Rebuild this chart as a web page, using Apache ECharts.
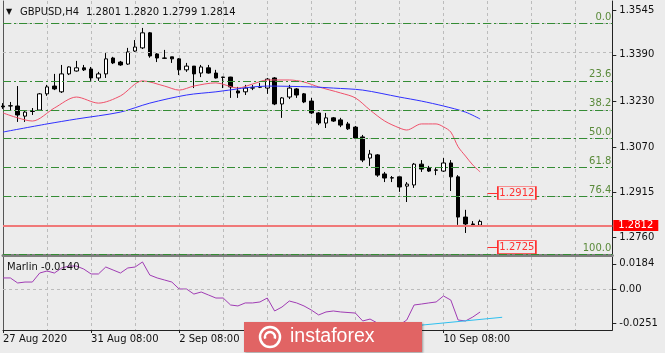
<!DOCTYPE html>
<html><head><meta charset="utf-8">
<script src="https://cdn.jsdelivr.net/npm/echarts@6/dist/echarts.min.js"></script>
<style>html,body{margin:0;padding:0;background:#ececec;}#c{width:665px;height:353px;}</style>
</head><body><div id="c"></div>
<script>
const symbolTitle = 'GBPUSD,H4';
const ohlcTitle = '1.2801 1.2820 1.2799 1.2814';
const indicatorTitle = 'Marlin -0.0140';

// [open, close, low, high]
const candles = [
 [1.3213,1.3210,1.3203,1.3223],[1.3213,1.3214,1.3199,1.3227],[1.3213,1.3182,1.3158,1.3282],[1.3178,1.3192,1.3158,1.3199],
 [1.3194,1.3196,1.3182,1.3206],[1.3199,1.3255,1.3196,1.3258],[1.3255,1.3279,1.3248,1.3286],[1.3282,1.3272,1.3268,1.3324],
 [1.3262,1.3324,1.3258,1.3355],[1.3324,1.3348,1.3320,1.3350],[1.3334,1.3345,1.3332,1.3369],[1.3345,1.3338,1.3334,1.3355],
 [1.3341,1.3310,1.3300,1.3348],[1.3310,1.3324,1.3300,1.3331],[1.3324,1.3376,1.3310,1.3396],[1.3379,1.3362,1.3358,1.3383],
 [1.3365,1.3355,1.3352,1.3369],[1.3358,1.3400,1.3355,1.3414],[1.3403,1.3417,1.3400,1.3441],[1.3414,1.3466,1.3410,1.3483],
 [1.3466,1.3386,1.3380,1.3469],[1.3393,1.3379,1.3365,1.3396],[1.3379,1.3378,1.3376,1.3407],[1.3383,1.3376,1.3362,1.3383],
 [1.3376,1.3338,1.3320,1.3379],[1.3338,1.3351,1.3331,1.3362],[1.3351,1.3324,1.3275,1.3351],[1.3327,1.3348,1.3313,1.3355],
 [1.3345,1.3327,1.3325,1.3355],[1.3327,1.3310,1.3308,1.3338],[1.3313,1.3312,1.3275,1.3314],[1.3313,1.3279,1.3241,1.3314],
 [1.3265,1.3258,1.3241,1.3279],[1.3262,1.3275,1.3251,1.3286],[1.3275,1.3276,1.3268,1.3286],[1.3278,1.3279,1.3275,1.3293],
 [1.3275,1.3306,1.3255,1.3310],[1.3310,1.3220,1.3216,1.3313],[1.3220,1.3241,1.3172,1.3244],[1.3244,1.3275,1.3237,1.3286],
 [1.3272,1.3251,1.3241,1.3275],[1.3255,1.3227,1.3223,1.3258],[1.3230,1.3189,1.3185,1.3241],[1.3189,1.3154,1.3147,1.3192],
 [1.3154,1.3172,1.3137,1.3189],[1.3172,1.3161,1.3158,1.3175],[1.3165,1.3147,1.3140,1.3172],[1.3151,1.3134,1.3130,1.3158],
 [1.3140,1.3102,1.3099,1.3144],[1.3106,1.3026,1.3019,1.3113],[1.3033,1.3047,1.3006,1.3061],[1.3044,1.2974,1.2968,1.3047],
 [1.2978,1.2964,1.2950,1.2985],[1.2965,1.2964,1.2950,1.2971],[1.2968,1.2933,1.2916,1.2968],[1.2936,1.2943,1.2881,1.2950],
 [1.2940,1.3012,1.2930,1.3016],[1.3012,1.2995,1.2985,1.3026],[1.2999,1.2988,1.2985,1.3006],[1.2992,1.2991,1.2974,1.2999],
 [1.2988,1.3016,1.2985,1.3033],[1.3016,1.2968,1.2919,1.3026],[1.2968,1.2829,1.2802,1.2974],[1.2829,1.2805,1.2774,1.2854],
 [1.2805,1.2803,1.2795,1.2815],[1.2801,1.2814,1.2799,1.2820]
];

// [bar index, value]
const maRed = [[0,1.3189],[2,1.3172],[4,1.3161],[7,1.3206],[10,1.3244],[13,1.3223],[16,1.3248],[19,1.3300],
 [22,1.3282],[24,1.3268],[26,1.3282],[29,1.3293],[32,1.3275],[34,1.3289],[36,1.3303],[39,1.3303],[41,1.3296],
 [43,1.3279],[46,1.3258],[48,1.3241],[50,1.3199],[52,1.3161],[54,1.3137],[55,1.3130],[57,1.3151],[59,1.3151],
 [60,1.3141],[61,1.3123],[62,1.3072],[63,1.3040],[64,1.3009],[65,1.2985]];
const maBlue = [[0,1.3123],[6,1.3151],[10,1.3168],[16,1.3192],[20,1.3223],[25,1.3251],[29,1.3262],[36,1.3282],
 [42,1.3279],[45,1.3275],[49,1.3268],[54,1.3244],[57,1.3230],[60,1.3213],[63,1.3192],[65,1.3168]];

const marlin = [0.0081,0.0081,0.0044,0.0051,0.0051,0.0117,0.0132,0.0117,0.0154,0.0168,0.0168,0.0146,
 0.0110,0.0110,0.0161,0.0139,0.0117,0.0154,0.0161,0.0198,0.0102,0.0081,0.0066,0.0051,0.0000,0.0000,
 -0.0037,-0.0022,-0.0044,-0.0066,-0.0066,-0.0117,-0.0124,-0.0102,-0.0102,-0.0095,-0.0066,-0.0161,-0.0132,
 -0.0088,-0.0102,-0.0124,-0.0154,-0.0190,-0.0168,-0.0161,-0.0168,-0.0172,-0.0176,-0.0234,-0.0220,-0.0249,
 -0.0271,-0.0278,-0.0264,-0.0227,-0.0117,-0.0110,-0.0102,-0.0095,-0.0051,-0.0081,-0.0227,-0.0234,-0.0205,-0.0168];
const marlinTrend = [[54,-0.0280],[68,-0.0207]];

const priceTicks = [1.3545,1.3390,1.3230,1.3070,1.2915,1.2760];
const marlinTicks = [0.0184,0,-0.0251];
const marlinTickLabels = ['0.0184','0.00','-0.0251'];
const fibLevels = [1.3514,1.3328,1.3213,1.3120,1.3026,1.2911,1.2725];
const fibNames = ['0.0','23.6','38.2','50.0','61.8','76.4','100.0'];
const currentPrice = 1.2812;
const priceBoxes = [1.2912,1.2725];
const timeLabels = {0:'27 Aug 2020',12:'31 Aug 08:00',24:'2 Sep 08:00',36:'4 Sep 08:00',48:'8 Sep 08:00',60:'10 Sep 08:00'};
const slotCount = 84;
const categories = Array.from({length: slotCount}, (_, i) => String(i));

const FONT = 'DejaVu Sans';
const gridDash = {color:'#bcbcbc', type:[3,3], width:1};

const chart = echarts.init(document.getElementById('c'), null, {renderer:'canvas'});

const hLines = [];
priceTicks.forEach(p => hLines.push({yAxis:p, lineStyle:gridDash, label:{show:false}}));
fibLevels.forEach((p,i) => hLines.push({
  yAxis:p, lineStyle:{color:'#348c34', type:[8,3,2,3], width:1},
  label:{show:true, position:'insideEndTop', formatter:fibNames[i], color:'#5a8a3a', fontSize:10, fontFamily:FONT, distance:1, padding:0}
}));
priceBoxes.forEach(p => hLines.push([{coord:[66,p]},{coord:[70,p]}]));
hLines.push({yAxis:currentPrice, lineStyle:{color:'#f07878', width:2, type:'solid'},
  label:{show:true, position:'end', formatter:currentPrice.toFixed(4), backgroundColor:'#ff0000', color:'#ffffff',
         fontSize:10, fontFamily:FONT, padding:[0,5,0,5], lineHeight:11, distance:1}});

const option = {
  animation:false,
  backgroundColor:'#ececec',
  grid:[
    {left:3, right:52.7, top:1, height:254},
    {left:3, right:52.7, top:257, height:73}
  ],
  xAxis:[
    {gridIndex:0, type:'category', data:categories, boundaryGap:false,
     axisLine:{show:true, onZero:false, lineStyle:{color:'#7f7f7f', width:3}},
     axisTick:{show:false}, axisLabel:{show:false},
     splitLine:{show:true, interval:5, lineStyle:gridDash}},
    {gridIndex:1, type:'category', data:categories, boundaryGap:false,
     axisLine:{show:true, onZero:false, lineStyle:{color:'#222', width:1}},
     axisTick:{show:true, interval:(i)=>timeLabels[i]!==undefined, length:3, lineStyle:{color:'#222'}},
     axisLabel:{show:true, interval:(i)=>timeLabels[i]!==undefined, formatter:(v,i)=>timeLabels[i]||'',
       align:'left', margin:4, fontSize:10, fontFamily:FONT, color:'#111'},
     splitLine:{show:true, interval:5, lineStyle:gridDash}}
  ],
  yAxis:[
    {gridIndex:0, type:'value', position:'right', min:1.26978, max:1.35761,
     axisLine:{show:true, lineStyle:{color:'#222'}},
     axisTick:{show:true, customValues:priceTicks, length:4, lineStyle:{color:'#222'}},
     axisLabel:{show:true, customValues:priceTicks, formatter:v=>v.toFixed(4), margin:7, fontSize:10, fontFamily:FONT, color:'#111'},
     splitLine:{show:false}},
    {gridIndex:1, type:'value', position:'right', min:-0.03001, max:0.02343,
     axisLine:{show:true, lineStyle:{color:'#222'}},
     axisTick:{show:true, customValues:marlinTicks, length:4, lineStyle:{color:'#222'}},
     axisLabel:{show:true, customValues:marlinTicks, margin:7, fontSize:10, fontFamily:FONT, color:'#111',
       formatter:v=>{let b=0;marlinTicks.forEach((t,k)=>{if(Math.abs(t-v)<Math.abs(marlinTicks[b]-v))b=k;});return marlinTickLabels[b];}},
     splitLine:{show:false}},
    {gridIndex:0, type:'value', position:'left', min:0, max:1,
     axisLine:{show:true, lineStyle:{color:'#555'}}, axisTick:{show:false}, axisLabel:{show:false}, splitLine:{show:false}},
    {gridIndex:1, type:'value', position:'left', min:0, max:1,
     axisLine:{show:true, lineStyle:{color:'#555'}}, axisTick:{show:false}, axisLabel:{show:false}, splitLine:{show:false}}
  ],
  series:[
    {type:'candlestick', xAxisIndex:0, yAxisIndex:0, data:candles, barWidth:4,
     itemStyle:{color:'#ffffff', color0:'#000000', borderColor:'#000000', borderColor0:'#000000', borderWidth:1},
     markLine:{silent:true, symbol:['none','none'], animation:false, lineStyle:{color:'#ff3030', width:1, type:'solid'},
       label:{show:false}, data:hLines},
     markPoint:{silent:true, symbol:'rect', symbolSize:[38,13], animation:false,
       itemStyle:{color:'#ececec', borderColor:'#ff3030', borderWidth:1},
       label:{show:true, position:'inside', color:'#ff3030', fontSize:10, fontFamily:FONT, formatter:p=>p.value.toFixed(4)},
       data:priceBoxes.map(p=>({coord:[70,p], value:p}))}
    },
    {type:'line', xAxisIndex:0, yAxisIndex:0, data:maRed, smooth:0.3, showSymbol:false, symbol:'none',
     lineStyle:{color:'#f0506a', width:1}, z:3},
    {type:'line', xAxisIndex:0, yAxisIndex:0, data:maBlue, smooth:0.3, showSymbol:false, symbol:'none',
     lineStyle:{color:'#3030ff', width:1}, z:3},
    {type:'line', xAxisIndex:1, yAxisIndex:1, data:marlin, showSymbol:false, symbol:'none',
     lineStyle:{color:'#a03cb4', width:1},
     markLine:{silent:true, symbol:['none','none'], label:{show:false}, data:[{yAxis:0, lineStyle:gridDash}]}},
    {type:'line', xAxisIndex:1, yAxisIndex:1, data:marlinTrend, showSymbol:false, symbol:'none',
     lineStyle:{color:'#2ec0f0', width:1}}
  ],
  graphic:[
    {type:'text', x:6, y:12, z:100, style:{text:'▼', font:'8px '+FONT, fill:'#111', verticalAlign:'middle'}},
    {type:'text', x:20, y:12.5, z:100, style:{text:symbolTitle, font:'10px '+FONT, fill:'#111', verticalAlign:'middle'}},
    {type:'text', x:86, y:12.5, z:100, style:{text:ohlcTitle, font:'10px '+FONT, fill:'#111', verticalAlign:'middle'}},
    {type:'text', x:7, y:267, z:100, style:{text:indicatorTitle, font:'10px '+FONT, fill:'#111', verticalAlign:'middle'}},
    {type:'group', x:244, y:322, z:1000, zlevel:1, children:[
      {type:'rect', z:1000, shape:{x:0, y:0, width:178, height:30}, style:{fill:'#e16464', shadowBlur:2, shadowColor:'rgba(0,0,0,0.35)', shadowOffsetX:1, shadowOffsetY:1}},
      {type:'circle', z:1001, shape:{cx:26, cy:15, r:10}, style:{fill:'none', stroke:'#ffffff', lineWidth:2.5}},
      {type:'arc', z:1001, shape:{cx:26, cy:15, r:5, startAngle:Math.PI*0.9, endAngle:Math.PI*2.1}, style:{fill:'none', stroke:'#ffffff', lineWidth:2.5}},
      {type:'text', z:1001, x:46, y:15, style:{text:'instaforex', font:'19.5px "Liberation Sans"', fill:'#ffffff', verticalAlign:'middle'}}
    ]}
  ]
};
chart.setOption(option);
</script></body></html>
